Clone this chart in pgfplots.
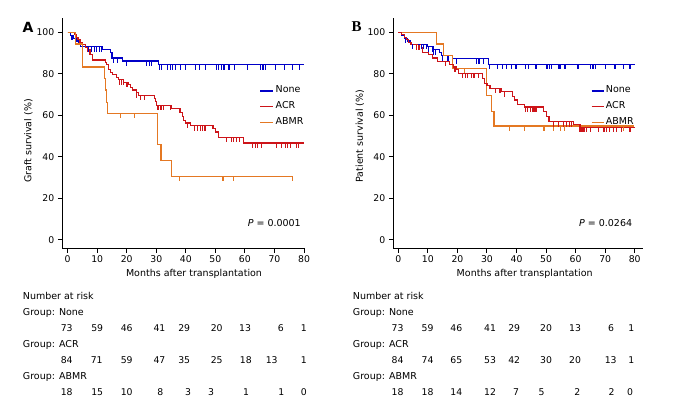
\documentclass[border=0pt]{standalone}
\usepackage{pgfplots}
\pgfplotsset{compat=1.18}
\usepackage{fontspec}
\setmainfont{DejaVu Sans}
\newfontfamily\serifbf{Liberation Serif}
\definecolor{cNone}{RGB}{0,0,200}
\definecolor{cACR}{RGB}{205,20,25}
\definecolor{cABMR}{RGB}{228,120,35}
\pgfdeclareplotmark{cens}{\pgfpathmoveto{\pgfpointorigin}\pgfpathlineto{\pgfpoint{0pt}{-5bp}}\pgfusepathqstroke}
\pgfplotsset{kmaxis/.style={
  scale only axis, anchor=south west, height=230bp,
  axis lines=left, axis line style={-, line width=1bp},
  tick align=outside, major tick length=4.5bp,
  tick style={black, line width=1bp},
  ymin=-3.9, ymax=106.9, ytick={0,20,...,100}, xtick={0,10,...,80},
  /pgf/number format/assume math mode=true,
  tick label style={font=\fontsize{9.3bp}{10bp}\selectfont},
  clip=false,
  every axis plot/.append style={line width=1.15bp},
}}
\newcommand{\txt}{\fontsize{9.5bp}{11bp}\selectfont}
\begin{document}
\begin{tikzpicture}
\path[use as bounding box] (0,0) rectangle (677bp,-414bp);
% ---------------- Panel A ----------------
\begin{axis}[kmaxis, at={(62.3bp,-248bp)}, width=241.7bp, xmin=-1.8, xmax=80]
\addplot[const plot, cNone] coordinates {(0,100) (1.0,98.6) (2.0,97.2) (3.0,95.8) (3.8,94.4) (4.5,93.0) (11.7,91.6) (14.4,90.1) (15.0,87.6) (18.7,86.2) (30.7,84.3) (80,84.3)};
\addplot[only marks, mark=cens, cNone] coordinates {(1.5,98.6) (7.1,93.0) (8.2,93.0) (9.0,93.0) (9.9,93.0) (10.7,93.0) (11.4,93.0) (15.6,87.6) (17.0,87.6) (19.8,86.2) (26.8,86.2) (27.6,86.2) (28.5,86.2) (31.0,84.3) (31.8,84.3) (33.9,84.3) (34.9,84.3) (35.6,84.3) (36.6,84.3) (38.3,84.3) (40.0,84.3) (43.4,84.3) (44.7,84.3) (46.7,84.3) (50.3,84.3) (51.2,84.3) (52.1,84.3) (52.9,84.3) (54.6,84.3) (56.5,84.3) (61.0,84.3) (65.3,84.3) (66.1,84.3) (67.0,84.3) (70.4,84.3) (73.5,84.3) (76.2,84.3) (78.5,84.3)};
\addplot[const plot, cACR] coordinates {(0,100) (2.5,98.8) (3.0,97.6) (3.5,96.4) (4.2,95.2) (5.0,94.0) (6.0,92.8) (7.2,91.6) (7.8,89.2) (8.3,86.7) (12.8,85.5) (13.3,84.3) (13.8,82.0) (14.5,80.8) (15.3,79.6) (16.5,78.4) (17.2,77.2) (19.0,76.0) (20.5,74.8) (21.2,73.5) (22.0,72.2) (23.2,71.0) (24.0,69.7) (29.3,68.3) (29.8,66.7) (30.2,64.9) (35.0,63.4) (38.3,61.5) (38.8,59.5) (39.3,57.5) (40.0,56.3) (41.5,55.0) (49.2,53.5) (50.0,52.0) (51.0,49.5) (59.5,46.7) (80,46.7)};
\addplot[only marks, mark=cens, cACR] coordinates {(6.7,92.8) (7.3,91.6) (17.7,77.2) (18.3,77.2) (18.8,77.2) (19.8,76.0) (20.4,76.0) (23.4,71.0) (24.7,69.7) (26.0,69.7) (30.6,64.9) (31.3,64.9) (31.7,64.9) (32.4,64.9) (34.7,64.9) (38.0,63.4) (40.5,56.3) (42.8,55.0) (43.9,55.0) (45.0,55.0) (45.6,55.0) (46.2,55.0) (46.8,55.0) (53.7,49.5) (55.4,49.5) (56.2,49.5) (57.1,49.5) (58.1,49.5) (62.7,46.7) (63.6,46.7) (64.4,46.7) (65.7,46.7) (70.6,46.7) (72.3,46.7) (73.8,46.7) (74.5,46.7) (75.5,46.7) (77.4,46.7) (78.1,46.7)};
\addplot[const plot, cABMR] coordinates {(0,100) (2.6,94.4) (4.9,88.9) (5.1,83.3) (12.5,77.8) (12.8,72.2) (13.1,66.1) (13.6,61.0) (30.3,45.9) (31.6,38.3) (35.3,30.6) (76.1,30.6)};
\addplot[only marks, mark=cens, cABMR] coordinates {(17.8,61.0) (22.6,61.0) (37.9,30.6) (52.6,30.6) (56.2,30.6) (76.0,30.6)};
\end{axis}
% ---------------- Panel B ----------------
\begin{axis}[kmaxis, at={(393.3bp,-248bp)}, width=249.4bp, xmin=-1.7, xmax=82.7]
\addplot[const plot, cNone] coordinates {(0,100) (1.0,98.6) (2.0,97.2) (3.0,95.8) (4.0,94.3) (9.8,93.0) (11.8,91.6) (13.9,90.1) (14.7,88.8) (18.3,87.2) (30.4,84.7) (80,84.7)};
\addplot[only marks, mark=cens, cNone] coordinates {(2.4,97.2) (4.7,94.3) (7.0,94.3) (7.8,94.3) (8.6,94.3) (9.5,94.3) (10.1,93.0) (11.5,93.0) (12.0,91.6) (12.5,91.6) (14.9,88.8) (16.8,88.8) (19.6,87.2) (26.4,87.2) (27.3,87.2) (28.7,87.2) (30.9,84.7) (33.7,84.7) (35.2,84.7) (36.5,84.7) (38.3,84.7) (39.8,84.7) (42.9,84.7) (44.0,84.7) (46.6,84.7) (50.0,84.7) (50.5,84.7) (51.1,84.7) (51.9,84.7) (54.1,84.7) (54.7,84.7) (56.4,84.7) (60.8,84.7) (65.1,84.7) (65.9,84.7) (66.8,84.7) (70.2,84.7) (73.3,84.7) (76.1,84.7) (78.4,84.7)};
\addplot[const plot, cABMR] coordinates {(0,100) (13.0,94.4) (15.4,88.9) (18.2,82.7) (29.9,69.4) (31.4,62.0) (32.4,54.9) (79.6,54.9)};
\addplot[only marks, mark=cens, cABMR] coordinates {(22.5,82.7) (37.5,54.9) (42.7,54.9) (49.3,54.9) (52.5,54.9) (55.0,54.9) (56.1,54.9) (76.1,54.9)};
\addplot[const plot, cACR] coordinates {(0,100) (1.2,98.8) (2.0,97.6) (2.8,96.4) (3.5,95.2) (4.3,94.0) (7.9,92.8) (8.3,90.4) (10.2,89.2) (11.7,87.6) (13.4,86.0) (17.4,84.7) (18.6,83.3) (19.8,81.9) (20.3,80.3) (28.6,77.8) (29.1,75.4) (30.0,74.2) (31.0,73.0) (34.8,71.4) (38.7,69.0) (39.3,67.4) (40.4,65.3) (42.7,64.0) (49.2,61.8) (50.2,59.4) (51.0,57.0) (59.3,55.5) (61.5,54.3) (80,54.3)};
\addplot[only marks, mark=cens, cACR] coordinates {(6.1,94.0) (7.0,94.0) (16.0,86.0) (19.2,83.3) (21.7,80.3) (22.8,80.3) (23.5,80.3) (24.8,80.3) (25.6,80.3) (27.1,80.3) (33.0,73.0) (34.4,73.0) (35.8,71.4) (42.9,64.0) (43.7,64.0) (44.6,64.0) (45.3,64.0) (45.9,64.0) (46.6,64.0) (52.5,57.0) (54.1,57.0) (55.8,57.0) (57.0,57.0) (57.8,57.0) (58.7,57.0) (61.5,54.3) (62.0,54.3) (62.5,54.3) (63.0,54.3) (63.8,54.3) (64.9,54.3) (67.7,54.3) (69.6,54.3) (70.5,54.3) (71.6,54.3) (72.8,54.3) (73.9,54.3) (75.6,54.3) (78.4,54.3)};
\end{axis}
% ---------------- Labels ----------------
\node[font=\fontsize{14bp}{16bp}\selectfont\bfseries] at (28bp,-27bp) {A};
\node[font=\fontsize{15bp}{17bp}\selectfont\serifbf\bfseries] at (356.7bp,-27bp) {B};
\node[font=\txt, rotate=90] at (28.3bp,-141bp) {Graft survival (\%)};
\node[font=\txt, rotate=90] at (360bp,-136bp) {Patient survival (\%)};
\node[font=\txt] at (194bp,-274bp) {Months after transplantation};
\node[font=\txt] at (524.7bp,-274bp) {Months after transplantation};
\node[font=\txt, anchor=east, inner sep=0pt] at (301bp,-223.3bp) {\textit{P} = 0.0001};
\node[font=\txt, anchor=east, inner sep=0pt] at (632.3bp,-223bp) {\textit{P} = 0.0264};
% legends
\foreach \yl/\yb/\c/\t in {91/92.5/cNone/None, 106.7/108.3/cACR/ACR, 122.7/124.3/cABMR/ABMR}{
  \draw[\c, line width=1.15bp] (260bp,-\yl bp) -- (273.3bp,-\yl bp);
  \node[font=\txt, anchor=base west, inner sep=0pt] at (275.5bp,-\yb bp) {\t};
  \draw[\c, line width=1.15bp] (591.7bp,-\yl bp) -- (604bp,-\yl bp);
  \node[font=\txt, anchor=base west, inner sep=0pt] at (605.7bp,-\yb bp) {\t};
}
% risk tables
\foreach \xo in {22.7, 352.7}{
  \node[font=\txt, anchor=base west, inner sep=0pt] at (\xo bp,-299.3bp) {Number at risk};
  \node[font=\txt, anchor=base west, inner sep=0pt] at (\xo bp,-315bp) {Group: None};
  \node[font=\txt, anchor=base west, inner sep=0pt] at (\xo bp,-347bp) {Group: ACR};
  \node[font=\txt, anchor=base west, inner sep=0pt] at (\xo bp,-379.5bp) {Group: ABMR};
}
\tikzset{num/.style={font=\fontsize{9.3bp}{10bp}\selectfont, anchor=base, inner sep=0pt}}
\foreach \x/\v in {66.7/73, 97.2/59, 126.7/46, 159.5/41, 184.2/29, 216.7/20, 245/13, 280.8/6, 303.8/1}
  \node[num] at (\x bp,-331.7bp) {\v};
\foreach \x/\v in {66.7/84, 96.7/71, 126.7/59, 159.5/47, 184.2/35, 216.7/25, 245.8/18, 271.7/13, 303.8/1}
  \node[num] at (\x bp,-363.5bp) {\v};
\foreach \x/\v in {66.7/18, 97.2/15, 126.7/10, 160.3/8, 188.2/3, 211/3, 246/1, 281.3/1, 303.8/0}
  \node[num] at (\x bp,-395.3bp) {\v};
\foreach \x/\v in {397.5/73, 427.5/59, 456.3/46, 490/41, 514.2/29, 546/20, 575/13, 611.2/6, 631.2/1}
  \node[num] at (\x bp,-331.7bp) {\v};
\foreach \x/\v in {397.5/84, 427.5/74, 456.3/65, 490/53, 514.2/42, 546/30, 575/20, 610.7/13, 631.2/1}
  \node[num] at (\x bp,-363.8bp) {\v};
\foreach \x/\v in {397.5/18, 427.5/18, 456.3/14, 490/12, 516.2/7, 541.7/5, 577.3/2, 611.7/2, 630/0}
  \node[num] at (\x bp,-395.8bp) {\v};
\end{tikzpicture}
\end{document}
